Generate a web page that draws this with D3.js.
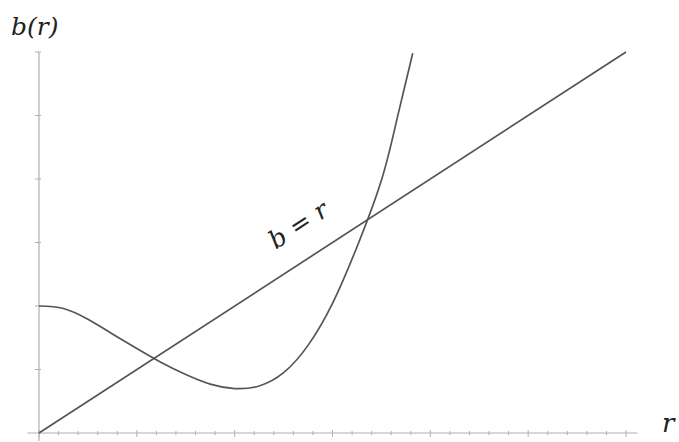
<!DOCTYPE html>
<html>
<head>
<meta charset="utf-8">
<script src="https://cdn.jsdelivr.net/npm/d3@7"></script>
<style>
  body { margin: 0; background: #fff; }
  .axis-label { font-family: "DejaVu Serif", serif; font-style: italic; font-size: 25px; fill: #222; }
</style>
</head>
<body>
<svg class="plot" width="679" height="442"></svg>
<script>
// values
let rValues = [0, 0.25, 0.5, 0.75, 1.0, 1.25, 1.5, 1.75, 2.0, 2.25, 2.5, 2.75, 3.0, 3.25, 3.5, 3.66, 3.82];
let bValues = [2.0, 1.96, 1.79, 1.56, 1.33, 1.11, 0.92, 0.77, 0.70, 0.74, 0.95, 1.38, 2.04, 2.93, 3.98, 4.95, 5.98];
let lineR = [0, 6];
let xMajor = [0, 1, 2, 3, 4, 5, 6];
let xMinor = d3.range(0, 30).map(i => i / 5).filter(v => v % 1 !== 0);
let yMajor = [0, 1, 2, 3, 4, 5, 6];

let svg = d3.select("svg.plot");

let x = d3.scaleLinear().domain([0, 6]).range([39, 626]);
let y = d3.scaleLinear().domain([0, 6]).range([433, 52]);

let axisColor = "#b0b0b0";

// x axis
svg.append("line")
  .attr("x1", x(-0.12)).attr("x2", x(6.12))
  .attr("y1", y(0)).attr("y2", y(0))
  .attr("stroke", axisColor).attr("stroke-width", 1.2);

svg.selectAll(".xmajor").data(xMajor).enter().append("line")
  .attr("class", "xmajor")
  .attr("x1", d => x(d)).attr("x2", d => x(d))
  .attr("y1", y(0) - 3).attr("y2", y(0) + 4)
  .attr("stroke", axisColor).attr("stroke-width", 1);

svg.selectAll(".xminor").data(xMinor).enter().append("line")
  .attr("class", "xminor")
  .attr("x1", d => x(d)).attr("x2", d => x(d))
  .attr("y1", y(0) - 2).attr("y2", y(0) + 2)
  .attr("stroke", axisColor).attr("stroke-width", 1);

// y axis
svg.append("line")
  .attr("x1", x(0)).attr("x2", x(0))
  .attr("y1", y(0) + 8).attr("y2", y(6))
  .attr("stroke", axisColor).attr("stroke-width", 1.2);

svg.selectAll(".ymajor").data(yMajor.slice(1)).enter().append("line")
  .attr("class", "ymajor")
  .attr("x1", x(0) - 4).attr("x2", x(0) + 2)
  .attr("y1", d => y(d)).attr("y2", d => y(d))
  .attr("stroke", axisColor).attr("stroke-width", 1);

// b = r line
let straight = d3.line().x(d => x(d)).y(d => y(d));
svg.append("path")
  .datum(lineR)
  .attr("fill", "none")
  .attr("stroke", "#555")
  .attr("stroke-width", 1.7)
  .attr("d", straight);

// b(r) curve
let curvePts = rValues.map((r, i) => ({ r: r, b: bValues[i] }));
let curve = d3.line()
  .x(d => x(d.r))
  .y(d => y(d.b))
  .curve(d3.curveNatural);
svg.append("path")
  .datum(curvePts)
  .attr("fill", "none")
  .attr("stroke", "#555")
  .attr("stroke-width", 1.7)
  .attr("d", curve);

// labels
svg.append("text")
  .attr("class", "axis-label")
  .attr("x", 11).attr("y", 35)
  .text("b(r)");

svg.append("text")
  .attr("class", "axis-label")
  .attr("x", 662).attr("y", 432)
  .style("font-size", "26px")
  .text("r");

let angle = -Math.atan((y(0) - y(6)) / (x(6) - x(0))) * 180 / Math.PI;
svg.append("text")
  .attr("class", "axis-label")
  .attr("text-anchor", "middle")
  .attr("transform", "translate(" + 303 + "," + 232 + ") rotate(" + angle + ")")
  .text("b = r");
</script>
</body>
</html>
